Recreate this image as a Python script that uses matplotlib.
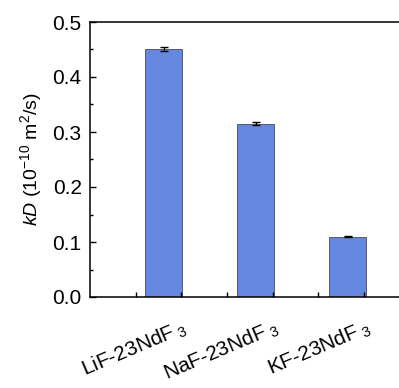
import matplotlib
matplotlib.use("Agg")
import matplotlib.pyplot as plt
import numpy as np

plt.rcParams['font.family'] = ['Liberation Sans', 'DejaVu Sans']
plt.rcParams['mathtext.fontset'] = 'custom'
plt.rcParams['mathtext.rm'] = 'Liberation Sans'
plt.rcParams['mathtext.it'] = 'Liberation Sans:italic'

samples = ['LiF-23NdF$_{\\ 3}$', 'NaF-23NdF$_{\\ 3}$', 'KF-23NdF$_{\\ 3}$']
kd = [0.451, 0.315, 0.110]
kd_err = [0.004, 0.003, 0.001]

fig = plt.figure(figsize=(3.99, 3.88), dpi=100)
ax = fig.add_axes([90 / 399, 91 / 388, 330 / 399, 275 / 388])

x = np.arange(1, len(samples) + 1)
ax.bar(x, kd, width=0.4, color='#6488df', edgecolor='#4a4a5a', linewidth=0.6)
ax.errorbar(x, kd, yerr=kd_err, fmt='none', ecolor='black', elinewidth=1.0,
            capsize=3, capthick=1.0)

ax.set_xlim(0.201, 3.788)
ax.set_ylim(0, 0.5)

ax.set_yticks(np.arange(0, 0.51, 0.1))
ax.set_yticks(np.arange(0.05, 0.5, 0.1), minor=True)
ax.yaxis.set_major_formatter(matplotlib.ticker.FormatStrFormatter('%.1f'))
ax.tick_params(axis='y', which='major', direction='in', length=4, width=1,
               labelsize=15, pad=6)
ax.tick_params(axis='y', which='minor', direction='in', length=2.5, width=1)

# origin-style inward ticks between categories
ax.set_xticks(np.arange(0.7, 3.5, 0.495))
ax.set_xticklabels([])
ax.tick_params(axis='x', which='major', direction='in', length=3.5, width=1)

for xi, name in zip(x, samples):
    ax.text(xi + 0.266, -0.064, name, rotation=23, ha='right', va='baseline',
            rotation_mode='anchor', fontsize=15, transform=ax.transData)

ax.set_ylabel('$\\mathit{kD}$ (10$^{-10}$ m$^2$/s)', fontsize=14, labelpad=6)

for s in ['left', 'bottom', 'top', 'right']:
    ax.spines[s].set_linewidth(1.1)

fig.savefig('out.png', dpi=100)
